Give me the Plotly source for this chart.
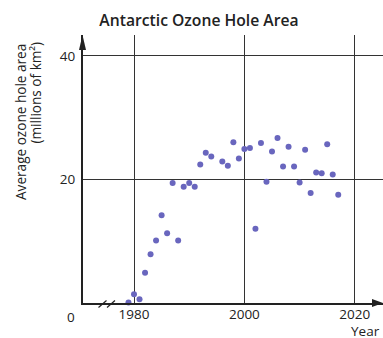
import plotly.graph_objects as go

years = [1979, 1980, 1981, 1982, 1983, 1984, 1985, 1986, 1987, 1988, 1989, 1990,
         1991, 1992, 1993, 1994, 1996, 1997, 1998, 1999, 2000, 2001, 2002, 2003,
         2004, 2005, 2006, 2007, 2008, 2009, 2010, 2011, 2012, 2013, 2014, 2015,
         2016, 2017]
area = [0.1, 1.4, 0.6, 4.9, 7.9, 10.1, 14.2, 11.3, 19.4, 10.1, 18.8, 19.4,
        18.8, 22.4, 24.3, 23.7, 22.9, 22.2, 26.0, 23.4, 24.9, 25.1, 12.0, 25.9,
        19.6, 24.5, 26.7, 22.1, 25.3, 22.1, 19.5, 24.8, 17.8, 21.1, 21.0, 25.7,
        20.8, 17.5]
x_ticks = [1980, 2000, 2020]
x_labels = ["1980", "2000", "2020"]
y_ticks = [20, 40]
y_labels = ["20", "40"]

# body margin is removed by post_script, so figure pixels == window pixels
W, H = 383, 338
L_ref, T_ref, B_ref = 83, 35, 303   # plot area in window pixels
L, T, R = L_ref, T_ref, 0
B = H - B_ref
PX_PER_YEAR = 110.4 / 20
PX_PER_UNIT = 123.6 / 20
X0_PX = 134  # pixel of 1980
plot_w = W - L - R
plot_h = H - T - B
x_lo = 1980 - (X0_PX - L_ref) / PX_PER_YEAR
x_hi = x_lo + plot_w / PX_PER_YEAR
y_hi = plot_h / PX_PER_UNIT

def px(x):  # window pixel -> paper fraction
    return (x - L) / plot_w

def py(y):
    return (H - B - y) / plot_h

FONT = "Open Sans"
INK = "#222222"
fig = go.Figure()
fig.add_trace(go.Scatter(x=years, y=area, mode="markers",
                         marker=dict(size=6, color="#6966be"),
                         cliponaxis=False, hoverinfo="skip"))

shapes = []
shapes.append(dict(type="path", xref="paper", yref="paper",
                   path=f"M {px(82.5)} {py(35)} L {px(79)} {py(50)} L {px(86)} {py(50)} Z",
                   fillcolor=INK, line=dict(width=0)))
shapes.append(dict(type="path", xref="paper", yref="paper",
                   path=f"M {px(383)} {py(303)} L {px(372)} {py(299)} L {px(372)} {py(307)} Z",
                   fillcolor=INK, line=dict(width=0)))
for x0 in (98.5, 107):
    shapes.append(dict(type="line", xref="paper", yref="paper",
                       x0=px(x0), y0=py(307.5), x1=px(x0 + 8), y1=py(300.5),
                       line=dict(color=INK, width=1.2)))

fig.update_layout(
    width=W, height=H,
    margin=dict(l=L, r=R, t=T, b=B),
    paper_bgcolor="white", plot_bgcolor="white",
    showlegend=False,
    font=dict(family=FONT, size=13.5, color=INK),
    title=dict(text="Antarctic Ozone Hole Area", xref="container", yref="container",
               x=199 / W, y=1 - 21 / H, xanchor="center", yanchor="middle",
               font=dict(family=FONT, size=15.7, color=INK, weight=600)),
    xaxis=dict(range=[x_lo, x_hi], tickvals=x_ticks, ticktext=x_labels,
               showgrid=True, gridcolor="#333333", gridwidth=1,
               zeroline=False, showline=True, linecolor=INK, linewidth=2,
               ticks="", ticklabelstandoff=-2, fixedrange=True),
    yaxis=dict(range=[0, y_hi], tickvals=y_ticks, ticktext=y_labels,
               showgrid=True, gridcolor="#333333", gridwidth=1,
               zeroline=False, showline=True, linecolor=INK, linewidth=2,
               ticks="", ticklabelstandoff=3, fixedrange=True),
    shapes=shapes,
    annotations=[
        dict(text="Average ozone hole area", textangle=-90,
             xref="paper", yref="paper", x=px(20.5), y=py(122.5),
             xanchor="center", yanchor="middle", showarrow=False,
             font=dict(size=13.6)),
        dict(text="(millions of km²)", textangle=-90,
             xref="paper", yref="paper", x=px(35.5), y=py(93),
             xanchor="center", yanchor="middle", showarrow=False,
             font=dict(size=13.6)),
        dict(text="0", xref="paper", yref="paper", x=px(71), y=py(317),
             xanchor="center", yanchor="middle", showarrow=False),
        dict(text="Year", xref="paper", yref="paper", x=px(382), y=py(331),
             xanchor="right", yanchor="middle", showarrow=False),
    ],
)
fig.write_html("out.html",
               config={"displayModeBar": False, "staticPlot": True},
               post_script="document.body.style.margin='0px';"
                           "document.body.style.overflow='hidden';")
